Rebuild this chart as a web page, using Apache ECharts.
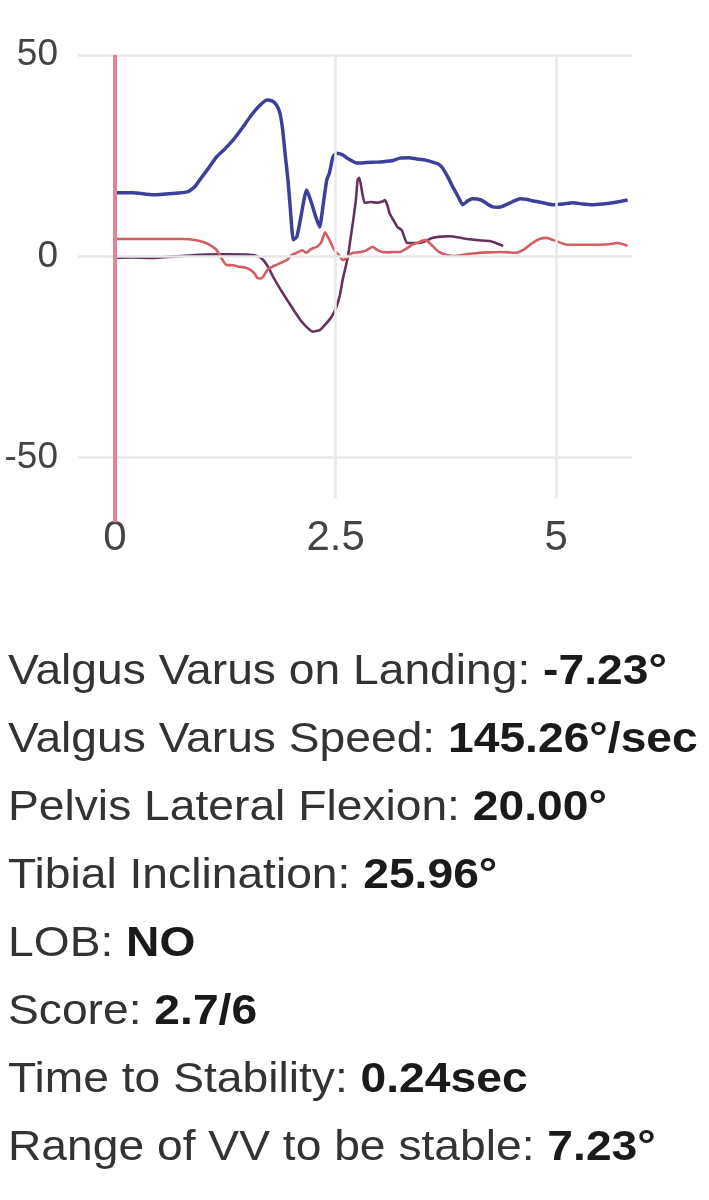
<!DOCTYPE html>
<html>
<head>
<meta charset="utf-8">
<script src="https://cdn.jsdelivr.net/npm/echarts@6/dist/echarts.min.js"></script>
<style>
html,body{margin:0;padding:0;background:#ffffff;}
#c{width:709px;height:1200px;}
</style>
</head>
<body>
<div id="c"></div>
<script>
// ---- data ----
const xTickLabels = [0, 2.5, 5];
const yTickLabels = [-50, 0, 50];

const blueT = [0, 0.2, 0.43, 0.65, 0.82, 0.9, 0.96, 1.05, 1.15, 1.25, 1.34, 1.44, 1.53, 1.62, 1.72, 1.78, 1.83, 1.87, 1.90, 1.93, 1.96, 1.99, 2.02, 2.06, 2.10, 2.17, 2.20, 2.24, 2.28, 2.32, 2.36, 2.40, 2.43, 2.47, 2.51, 2.58, 2.63, 2.74, 2.85, 2.97, 3.04, 3.15, 3.23, 3.33, 3.42, 3.52, 3.60, 3.66, 3.71, 3.77, 3.83, 3.89, 3.94, 4.0, 4.05, 4.15, 4.22, 4.28, 4.34, 4.40, 4.5, 4.59, 4.66, 4.73, 4.85, 4.96, 5.08, 5.19, 5.3, 5.41, 5.53, 5.64, 5.72, 5.81];
const blueV = [15.8, 15.8, 15.3, 15.6, 16, 17.2, 19, 21.6, 24.7, 26.8, 28.9, 31.8, 34.6, 37, 38.8, 38.6, 37.6, 35.5, 31.4, 25, 19, 11, 4.1, 4.8, 9, 16.5, 15, 12.3, 9.5, 7.3, 13, 19, 20.7, 24.7, 25.6, 25.2, 24.4, 23.2, 23.3, 23.4, 23.5, 23.8, 24.4, 24.5, 24.2, 23.9, 23.4, 23, 22, 19.8, 17.2, 14.8, 12.8, 13.8, 14.3, 14, 13, 12.3, 12.2, 12.5, 13.5, 14.3, 14.2, 13.8, 13.3, 12.8, 13, 13.3, 13, 12.8, 13, 13.3, 13.6, 14];

const purpleT = [0, 0.2, 0.4, 0.7, 0.96, 1.25, 1.53, 1.62, 1.68, 1.74, 1.79, 1.87, 1.95, 2.03, 2.10, 2.17, 2.24, 2.32, 2.40, 2.46, 2.51, 2.55, 2.58, 2.61, 2.64, 2.67, 2.70, 2.73, 2.75, 2.77, 2.80, 2.83, 2.90, 2.97, 3.03, 3.06, 3.09, 3.11, 3.15, 3.20, 3.25, 3.31, 3.38, 3.45, 3.52, 3.60, 3.7, 3.79, 3.9, 3.99, 4.12, 4.25, 4.33, 4.40];
const purpleV = [-0.4, -0.3, -0.4, 0, 0.4, 0.5, 0.4, 0, -0.9, -2.8, -5, -8, -10.8, -13.5, -15.8, -17.5, -18.7, -18.3, -16.5, -14.8, -12.5, -9.5, -5.8, -3, 0, 4.5, 9, 14, 19, 19.5, 16, 13.3, 13.5, 13.3, 13.6, 14, 12.5, 10.8, 9.2, 7.3, 6.5, 3.3, 3.3, 3.3, 3.8, 4.6, 4.9, 5, 4.7, 4.3, 4, 3.8, 3.2, 2.6];

const redT = [0, 0.4, 0.77, 0.92, 1.03, 1.1, 1.15, 1.2, 1.26, 1.34, 1.41, 1.48, 1.53, 1.58, 1.61, 1.65, 1.68, 1.73, 1.78, 1.83, 1.89, 1.95, 2.0, 2.06, 2.12, 2.17, 2.22, 2.29, 2.34, 2.38, 2.43, 2.47, 2.51, 2.55, 2.58, 2.62, 2.66, 2.70, 2.77, 2.85, 2.92, 2.97, 3.03, 3.1, 3.16, 3.23, 3.30, 3.37, 3.45, 3.52, 3.58, 3.67, 3.75, 3.83, 3.95, 4.13, 4.25, 4.36, 4.46, 4.55, 4.64, 4.73, 4.81, 4.89, 5.0, 5.12, 5.3, 5.49, 5.6, 5.69, 5.76, 5.81];
const redV = [4.3, 4.3, 4.3, 4.0, 3.3, 2.5, 1.6, -0.2, -2.1, -2.2, -2.6, -2.8, -3.3, -4.2, -5.3, -5.5, -5, -3.3, -2.6, -2.1, -1.5, -0.9, 0.3, 0.9, 1.5, 0.9, 1.8, 2.4, 3.6, 6.0, 4.1, 2.2, 0.9, 0, -0.9, -0.5, 0.4, 0.9, 1, 1.5, 2.4, 1.6, 1.1, 1.0, 1.1, 1.1, 1.9, 2.9, 3.6, 4.1, 3.0, 1.1, 0.4, 0.1, 0.4, 0.9, 1.0, 1.1, 1.0, 0.9, 1.8, 3.3, 4.3, 4.6, 3.8, 2.9, 2.9, 2.9, 3.0, 3.3, 3.0, 2.6];

const landingT = [0, 0];
const landingV = [-66, 50];

const statLabels = [
  'Valgus Varus on Landing: ',
  'Valgus Varus Speed: ',
  'Pelvis Lateral Flexion: ',
  'Tibial Inclination: ',
  'LOB: ',
  'Score: ',
  'Time to Stability: ',
  'Range of VV to be stable: '
];
const statValues = ['-7.23°', '145.26°/sec', '20.00°', '25.96°', 'NO', '2.7/6', '0.24sec', '7.23°'];

// ---- chart ----
function pairs(t, v) { return t.map((x, i) => [x, v[i]]); }
const FONT = "'Liberation Sans', Arial, Helvetica, sans-serif";

const chart = echarts.init(document.getElementById('c'), null, { renderer: 'canvas' });

const statGraphics = statLabels.map((lab, i) => ({
  type: 'text',
  x: 8,
  y: 672 + 68 * i,
  scaleX: 1.1,
  scaleY: 1,
  silent: true,
  style: {
    text: '{r|' + lab + '}{b|' + statValues[i] + '}',
    verticalAlign: 'middle',
    align: 'left',
    rich: {
      r: { fontSize: 42, fontFamily: FONT, fontWeight: 'normal', fill: '#333333' },
      b: { fontSize: 42, fontFamily: FONT, fontWeight: 'bold', fill: '#1a1a1a' }
    }
  }
}));

const option = {
  backgroundColor: '#ffffff',
  animation: false,
  grid: { left: 78, right: 77, top: 55, bottom: 702, containLabel: false },
  xAxis: {
    type: 'value',
    min: -0.42,
    max: 5.86,
    axisLine: { show: false },
    axisTick: { show: false },
    splitLine: { show: false },
    axisLabel: {
      customValues: xTickLabels,
      fontSize: 42,
      fontFamily: FONT,
      color: '#444444',
      margin: 19
    }
  },
  yAxis: {
    type: 'value',
    min: -60,
    max: 50,
    axisLine: { show: false },
    axisTick: { show: false },
    splitLine: { show: false },
    axisLabel: {
      customValues: yTickLabels,
      fontSize: 37,
      fontFamily: FONT,
      color: '#444444',
      margin: 20
    }
  },
  graphic: statGraphics,
  series: [
    {
      name: 'grid',
      type: 'line',
      data: [],
      z: 1,
      silent: true,
      markLine: {
        silent: true,
        symbol: 'none',
        animation: false,
        label: { show: false },
        emphasis: { disabled: true },
        lineStyle: { color: '#e8e8e8', width: 2.5, type: 'solid' },
        data: yTickLabels.map(v => ({ yAxis: v }))
          .concat(xTickLabels.filter(v => v !== 0).map(v => ({ xAxis: v })))
      }
    },
    {
      name: 'Valgus/Varus',
      type: 'line',
      data: pairs(blueT, blueV),
      showSymbol: false,
      smooth: 0.15,
      z: 4,
      lineStyle: { color: '#3d3f9c', width: 3.5 }
    },
    {
      name: 'Pelvis',
      type: 'line',
      data: pairs(purpleT, purpleV),
      showSymbol: false,
      smooth: 0.15,
      z: 3,
      lineStyle: { color: '#64325f', width: 2.6 }
    },
    {
      name: 'Tibia',
      type: 'line',
      data: pairs(redT, redV),
      showSymbol: false,
      smooth: 0.15,
      z: 3,
      lineStyle: { color: '#d45d63', width: 2.6 }
    },
    {
      name: 'Landing',
      type: 'line',
      data: pairs(landingT, landingV),
      showSymbol: false,
      clip: false,
      z: 5,
      lineStyle: { color: '#e0848f', width: 4 }
    }
  ]
};
chart.setOption(option);
</script>
</body>
</html>
